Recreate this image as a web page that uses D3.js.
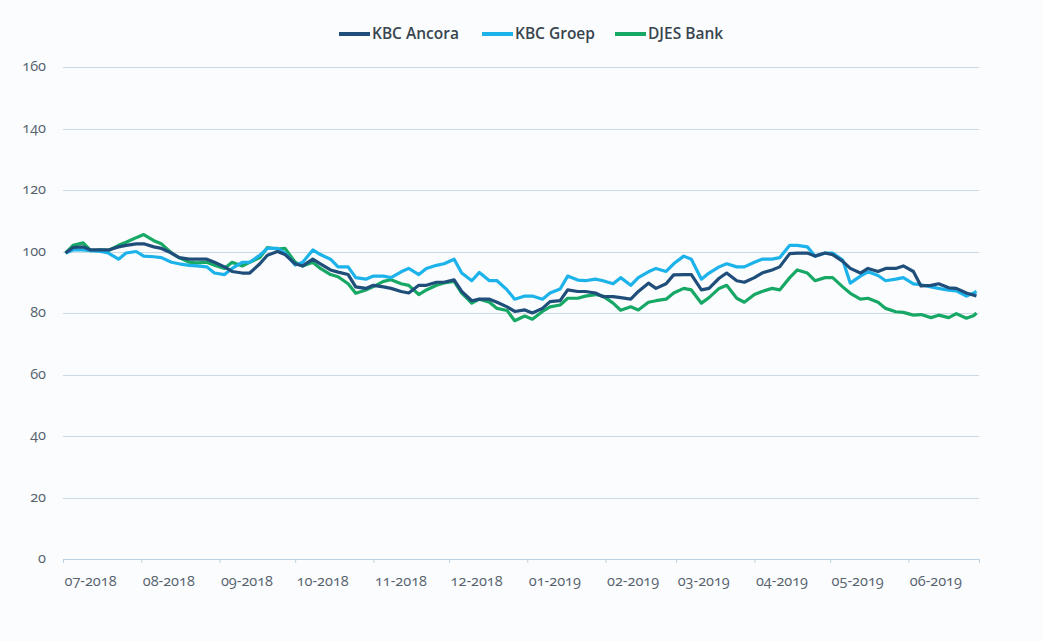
<!DOCTYPE html>
<html lang="en">
<head>
<meta charset="utf-8">
<title>KBC Ancora vs KBC Groep vs DJES Bank</title>
<style>
body {
  margin: 0;
  background: #fbfcfd;
}
svg {
  font-family: "Open Sans", "Lato", sans-serif;
  font-variant-numeric: oldstyle-nums;
  font-feature-settings: "onum" 1;
}
.grid line {
  stroke: #cdd9e3;
  stroke-width: 1;
  shape-rendering: crispEdges;
}
.axis text {
  fill: #55616d;
  font-size: 14.5px;
}
.legend text {
  fill: #38454f;
  font-size: 15.5px;
  font-weight: 600;
}
.series {
  fill: none;
  stroke-width: 3.2;
  stroke-linejoin: round;
}
</style>
</head>
<body>
<svg width="1043" height="641"></svg>
<script src="https://cdn.jsdelivr.net/npm/d3@7"></script>
<script>

// trading dates sampled twice a week (Mon / Thu)
let dates = [
  "2018-07-02","2018-07-05","2018-07-09","2018-07-12","2018-07-16","2018-07-19","2018-07-23","2018-07-26","2018-07-30",
  "2018-08-02","2018-08-06","2018-08-09","2018-08-13","2018-08-16","2018-08-20","2018-08-23","2018-08-27","2018-08-30",
  "2018-09-03","2018-09-06","2018-09-10","2018-09-13","2018-09-17","2018-09-20","2018-09-24","2018-09-27",
  "2018-10-01","2018-10-04","2018-10-08","2018-10-11","2018-10-15","2018-10-18","2018-10-22","2018-10-25","2018-10-29",
  "2018-11-01","2018-11-05","2018-11-08","2018-11-12","2018-11-15","2018-11-19","2018-11-22","2018-11-26","2018-11-29",
  "2018-12-03","2018-12-06","2018-12-10","2018-12-13","2018-12-17","2018-12-20","2018-12-24","2018-12-27","2018-12-31",
  "2019-01-03","2019-01-07","2019-01-10","2019-01-14","2019-01-17","2019-01-21","2019-01-24","2019-01-28","2019-01-31",
  "2019-02-04","2019-02-07","2019-02-11","2019-02-14","2019-02-18","2019-02-21","2019-02-25","2019-02-28",
  "2019-03-04","2019-03-07","2019-03-11","2019-03-14","2019-03-18","2019-03-21","2019-03-25","2019-03-28",
  "2019-04-01","2019-04-04","2019-04-08","2019-04-11","2019-04-15","2019-04-18","2019-04-22","2019-04-25","2019-04-29",
  "2019-05-02","2019-05-06","2019-05-09","2019-05-13","2019-05-16","2019-05-20","2019-05-23","2019-05-27","2019-05-30",
  "2019-06-03","2019-06-06","2019-06-10","2019-06-13","2019-06-17","2019-06-20","2019-06-24","2019-06-27","2019-06-28"
];

let kbcAncora = [
  99.5,101.3,101.5,100.5,100.5,100.5,101.5,102,102.5,
  102.5,101.5,101,99.5,98,97.5,97.5,97.5,96.5,
  95,93.5,93,93,96,98.8,100,99,
  96,95.3,97.5,96,94,93.3,92.5,88.5,88,
  89,88.5,88,87,86.5,89,89,90,90,
  90.8,87,84,84.5,84.5,83.5,82,80.5,81,
  80,81.5,83.7,84,87.5,87,87,86.5,85.3,
  85.3,85,84.5,87,89.7,88,89.5,92.4,
  92.5,92.5,87.5,88,91.3,93,90.5,90,
  91.5,93,94,95,99.3,99.5,99.5,98.5,99.5,
  99,96.8,94.5,93,94.5,93.5,94.5,94.5,95.3,
  93.5,88.8,89,89.5,88.2,88,86.5,85.8,85.5
];

let kbcGroep = [
  99.5,100.5,100.5,100.3,100,99.5,97.5,99.5,100,
  98.5,98.3,98,96.5,96,95.5,95.3,95,93,
  92.5,94.5,96.5,96.5,98.8,101,101,99.5,
  95.6,96.5,100.5,99,97.5,95,95,91.5,91,
  92,92,91.5,93.4,94.5,92.5,94.5,95.5,96,
  97.5,93,90.5,93.2,90.5,90.5,87.5,84.5,85.5,
  85.5,84.5,86.5,87.8,92,90.7,90.5,91,90.5,
  89.5,91.5,89,91.5,93.4,94.5,93.5,96,
  98.5,97.5,91,93,95,96,95,95,
  96.5,97.5,97.5,98,102,102,101.5,98.5,99.5,
  99.5,97.2,89.7,92,93.4,92.2,90.5,91,91.5,
  89.5,89.2,88.5,88,87.4,87.2,85.5,86.5,87
];

let djesBank = [
  99.5,102,102.8,100.3,100.5,100.3,102,103,104.5,
  105.5,103.5,102.5,99.5,98,96.5,96.3,96.5,95.5,
  94.5,96.5,95.3,96.5,98,101.3,100.8,101,
  96.5,95.3,96.5,94.5,92.5,91.8,89.5,86.4,87.5,
  88.6,90.3,90.8,89.5,89,86,87.5,89,89.8,
  90.3,86.5,83.2,84.5,83.5,81.5,80.8,77.5,79,
  78,80.5,82,82.6,84.8,84.8,85.5,86,85.5,
  83.2,80.9,82,81,83.5,84,84.5,86.5,
  88,87.5,83.2,85,88,89,84.8,83.5,
  86,87,88,87.5,91.5,94,93,90.5,91.5,
  91.5,88.5,86.4,84.5,84.8,83.5,81.5,80.4,80.2,
  79.3,79.5,78.5,79.3,78.5,79.8,78.3,79.2,80
];

let seriesNames = ["KBC Ancora", "KBC Groep", "DJES Bank"];
let seriesColors = ["#1f4e7b", "#1cb2ea", "#17a866"];
let yTicks = [0, 20, 40, 60, 80, 100, 120, 140, 160];

let parse = d3.timeParse("%Y-%m-%d");
let series = [kbcAncora, kbcGroep, djesBank].map(function(vals, k) {
  return {
    name: seriesNames[k],
    color: seriesColors[k],
    values: vals.map(function(v, i) { return {date: parse(dates[i]), value: v}; })
  };
});

let plotLeft = 63, plotRight = 979, plotTop = 67, plotBottom = 559;

let x = d3.scaleTime()
    .domain([new Date(2018, 6, 1), new Date(2019, 5, 29)])
    .range([plotLeft, plotRight]);

let y = d3.scaleLinear()
    .domain([0, 160])
    .range([plotBottom, plotTop]);

let svg = d3.select("svg");

// horizontal grid
svg.append("g")
    .attr("class", "grid")
  .selectAll("line")
    .data(yTicks.filter(function(d) { return d > 0; }))
  .enter().append("line")
    .attr("x1", plotLeft)
    .attr("x2", plotRight)
    .attr("y1", function(d) { return Math.round(y(d)) + 0.5; })
    .attr("y2", function(d) { return Math.round(y(d)) + 0.5; });

// y axis labels
svg.append("g")
    .attr("class", "axis")
  .selectAll("text")
    .data(yTicks)
  .enter().append("text")
    .attr("x", 46)
    .attr("y", function(d) { return y(d); })
    .attr("dy", "0.3em")
    .attr("text-anchor", "end")
    .text(function(d) { return d; });

// x axis
let xAxis = d3.axisBottom(x)
    .ticks(d3.timeMonth.every(1))
    .tickSize(4)
    .tickFormat(d3.timeFormat("%m-%Y"));

let gx = svg.append("g")
    .attr("class", "axis")
    .attr("transform", "translate(0," + plotBottom + ")")
    .call(xAxis);

gx.attr("font-family", null).attr("font-size", null);
gx.select(".domain").attr("stroke", "#bcd2e2");
gx.selectAll(".tick line").attr("stroke", "#bcd2e2");
gx.selectAll(".tick text")
    .attr("text-anchor", "start")
    .attr("dx", 1)
    .attr("y", 17);

// lines
let line = d3.line()
    .x(function(d) { return x(d.date); })
    .y(function(d) { return y(d.value); });

svg.selectAll(".series")
    .data(series.slice().reverse())
  .enter().append("path")
    .attr("class", "series")
    .attr("stroke", function(d) { return d.color; })
    .attr("d", function(d) { return line(d.values); });

// legend
let legendX = [339, 482, 615];
let legend = svg.selectAll(".legend")
    .data(series)
  .enter().append("g")
    .attr("class", "legend")
    .attr("transform", function(d, i) { return "translate(" + legendX[i] + ",34)"; });

legend.append("line")
    .attr("x1", 0)
    .attr("x2", 31)
    .attr("stroke", function(d) { return d.color; })
    .attr("stroke-width", 4);

legend.append("text")
    .attr("x", 33)
    .attr("dy", "0.35em")
    .text(function(d) { return d.name; });

</script>
</body>
</html>
